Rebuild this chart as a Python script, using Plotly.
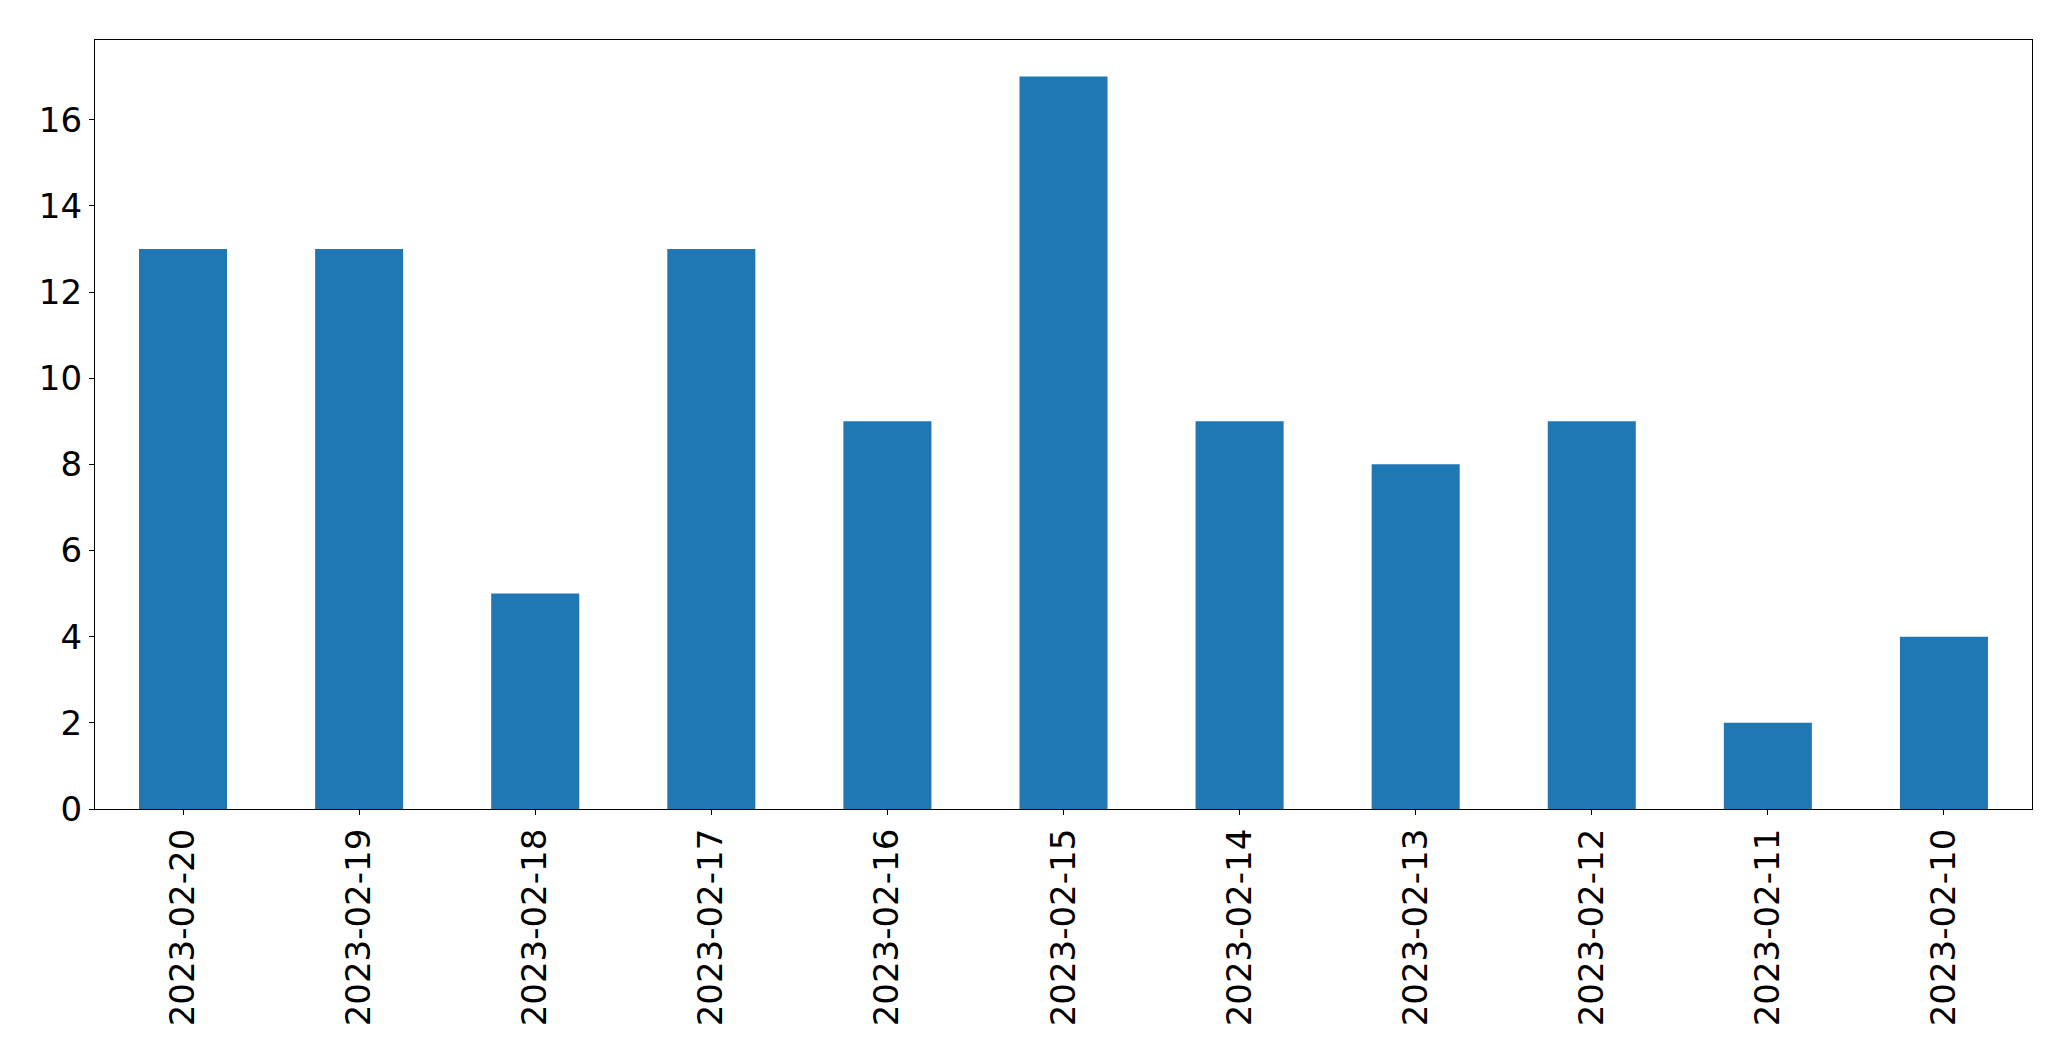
import plotly.graph_objects as go

dates = ["2023-02-20", "2023-02-19", "2023-02-18", "2023-02-17", "2023-02-16",
         "2023-02-15", "2023-02-14", "2023-02-13", "2023-02-12", "2023-02-11", "2023-02-10"]
counts = [13, 13, 5, 13, 9, 17, 9, 8, 9, 2, 4]
y_ticks = [0, 2, 4, 6, 8, 10, 12, 14, 16]

fig = go.Figure(go.Bar(x=dates, y=counts, marker_color="#1f77b4", marker_line_width=0))

font = dict(family="DejaVu Sans", size=34, color="black")
# page body has an 8px default margin; size and margins compensate for it
fig.update_layout(
    width=2063, height=1053,
    margin=dict(l=87, r=39, t=32, b=252, autoexpand=False),
    paper_bgcolor="white", plot_bgcolor="white",
    bargap=0.5, showlegend=False, font=font,
)
fig.update_xaxes(type="category", tickangle=-90, showline=True, mirror=True,
                 linecolor="black", linewidth=1.3, ticks="outside", ticklen=5,
                 tickcolor="black", showgrid=False, tickfont=font, automargin=False)
fig.update_yaxes(range=[0, 17.85], tickvals=y_ticks, showline=True, mirror=True,
                 linecolor="black", linewidth=1.3, ticks="outside", ticklen=5,
                 tickcolor="black", showgrid=False, zeroline=False, tickfont=font,
                 automargin=False)
fig.write_html("out.html")
